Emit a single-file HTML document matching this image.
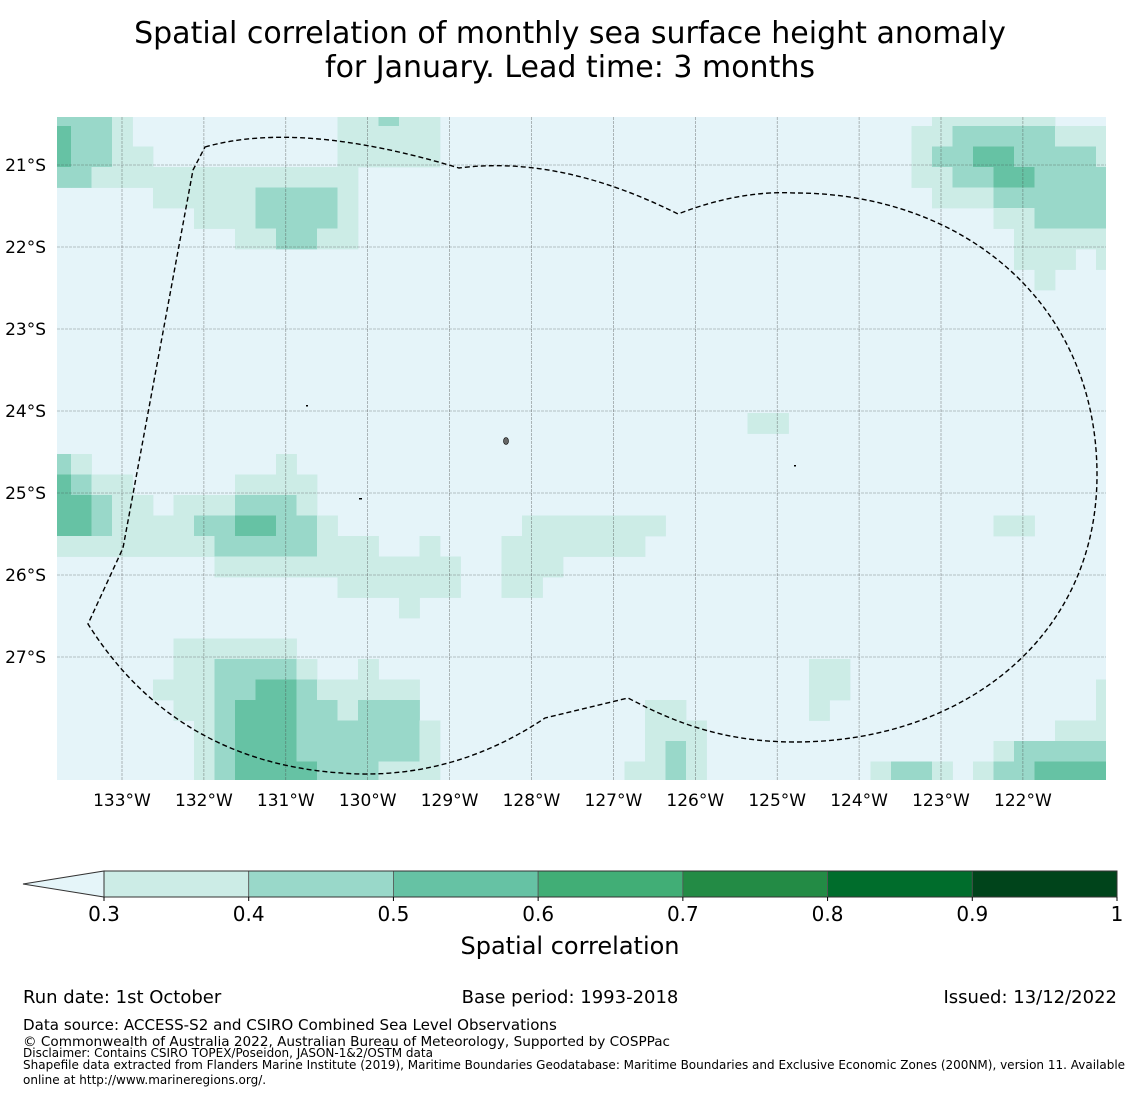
<!DOCTYPE html>
<html><head><meta charset="utf-8">
<style>
html,body{margin:0;padding:0;background:#fff;}
body{width:1140px;height:1095px;overflow:hidden;font-family:"DejaVu Sans","Liberation Sans",sans-serif;}
svg text{font-family:"DejaVu Sans","Liberation Sans",sans-serif;fill:#000;}
</style></head>
<body>
<svg id="chart" width="1140" height="1095" viewBox="0 0 1140 1095" xmlns="http://www.w3.org/2000/svg">
<text x="570" y="43" font-size="30" text-anchor="middle">Spatial correlation of monthly sea surface height anomaly</text>
<text x="570" y="77" font-size="30" text-anchor="middle">for January. Lead time: 3 months</text>
<defs><clipPath id="mapclip"><rect x="57" y="117" width="1049" height="663"/></clipPath></defs>
<g id="map" clip-path="url(#mapclip)">
<rect x="57" y="117" width="1049" height="663" fill="#e5f4f9"/>
<g id="cells"></g>
<g id="grid"></g>
<path d="M205,147 Q300,120 459,168 Q560,155 678,214 Q740,190 795,193 C960,193 1097,300 1097,475 C1097,640 960,742 795,742 C720,742 670,720 628,698 L545,718 Q460,775 362,774 Q180,770 88,624 L123,548 L193,170 Z" fill="none" stroke="#000" stroke-width="1.4" stroke-dasharray="5,3"/>
<ellipse cx="506" cy="441" rx="2.5" ry="3.5" fill="#666" stroke="#000" stroke-width="0.6"/>
<rect x="306" y="405" width="2" height="1.5" fill="#000"/>
<rect x="359" y="498" width="3" height="1.5" fill="#000"/>
<rect x="794" y="465" width="2" height="1.5" fill="#000"/>
</g>
<g id="axes"></g>
<g id="colorbar"></g>
<text x="570" y="954" font-size="24" text-anchor="middle">Spatial correlation</text>
<text x="23" y="1003" font-size="18">Run date: 1st October</text>
<text x="570" y="1003" font-size="18" text-anchor="middle">Base period: 1993-2018</text>
<text x="1117" y="1003" font-size="18" text-anchor="end">Issued: 13/12/2022</text>
<text x="23" y="1030" font-size="15.1">Data source: ACCESS-S2 and CSIRO Combined Sea Level Observations</text>
<text x="23" y="1046" font-size="13.6">© Commonwealth of Australia 2022, Australian Bureau of Meteorology, Supported by COSPPac</text>
<text x="23" y="1057" font-size="12">Disclaimer: Contains CSIRO TOPEX/Poseidon, JASON-1&amp;2/OSTM data</text>
<text x="23" y="1069" font-size="12">Shapefile data extracted from Flanders Marine Institute (2019), Maritime Boundaries Geodatabase: Maritime Boundaries and Exclusive Economic Zones (200NM), version 11. Available</text>
<text x="23" y="1084" font-size="12">online at http://www.marineregions.org/.</text>
</svg>
<script>
var lonTicks = [133,132,131,130,129,128,127,126,125,124,123,122];
var latTicks = [21,22,23,24,25,26,27];
var cbTicks = [0.3,0.4,0.5,0.6,0.7,0.8,0.9,1];
var cbLabels = ["0.3","0.4","0.5","0.6","0.7","0.8","0.9","1"];
var cbColors = ["#ccece6","#99d8c9","#66c2a4","#41ae76","#238b45","#006d2c","#00441b"];
// correlation bin per code: 0 = below 0.3, 1 = 0.3-0.4, 2 = 0.4-0.5, 3 = 0.5-0.6
var levelValues = [0.2, 0.35, 0.45, 0.55];
// one string per 0.25-deg row (north to south), one char per 0.25-deg column (west to east)
var Z = "0000000000";
var gridRows = [
 "2221000000"+"0000112110"+Z+Z+"0001111110"+"00",
 "3221000000"+"0000111110"+Z+Z+"0011222221"+"11",
 "3221100000"+"0000111110"+Z+Z+"0012233222"+"21",
 "2211111111"+"1111100000"+Z+Z+"0011223322"+"22",
 "0000011111"+"2222100000"+Z+Z+"0001112222"+"22",
 "0000000111"+"2222100000"+Z+Z+"0000001122"+"22",
 "0000000001"+"1221100000"+Z+Z+"0000000111"+"11",
 Z+Z+Z+Z+"0000000111"+"01",
 Z+Z+Z+Z+"0000000010"+"00",
 Z+Z+Z+Z+Z+"00",
 Z+Z+Z+Z+Z+"00",
 Z+Z+Z+Z+Z+"00",
 Z+Z+Z+Z+Z+"00",
 Z+Z+Z+Z+Z+"00",
 Z+Z+Z+Z+Z+"00",
 Z+Z+Z+"0000110000"+Z+"00",
 Z+Z+Z+Z+Z+"00",
 "2100000000"+"0100000000"+Z+Z+Z+"00",
 "3211000001"+"1110000000"+Z+Z+Z+"00",
 "3321101112"+"2210000000"+Z+Z+Z+"00",
 "3321111223"+"3221000000"+"0001111111"+Z+"0000001100"+"00",
 "1111111122"+"2221110010"+"0011111110"+Z+Z+"00",
 "0000000011"+"1111111111"+"0011100000"+Z+Z+"00",
 "0000000000"+"0000111111"+"0011000000"+Z+Z+"00",
 Z+"0000000100"+Z+Z+Z+"00",
 Z+Z+Z+Z+Z+"00",
 "0000001111"+"1100000000"+Z+Z+Z+"00",
 "0000001122"+"2210010000"+Z+"0000000110"+Z+"00",
 "0000011122"+"3321111100"+Z+"0000000110"+Z+"01",
 "0000001123"+"3322122200"+"0000000001"+"1000000100"+Z+"01",
 "0000000123"+"3322222210"+"0000000001"+"1100000000"+"0000000001"+"11",
 "0000000123"+"3322222210"+"0000000001"+"2100000000"+"0000001222"+"22",
 "0000000123"+"3332221110"+"0000000011"+"2100000000"+"1221012233"+"33"
];

var NS = "http://www.w3.org/2000/svg";
function xLon(lon){ return 122 + (133 - lon) * 81.9; }
function yLat(lat){ return 165 + (lat - 21) * 82; }
function xCol(c){ return 50.5 + 20.5 * c; }
function yRow(r){ return 105.5 + 20.5 * r; }
function colorFor(v){
  for (var i = 0; i < cbColors.length; i++) { if (v >= cbTicks[i] && v < cbTicks[i+1]) return cbColors[i]; }
  return v >= 1 ? cbColors[cbColors.length-1] : null;
}
function mk(tag, attrs, parent){
  var e = document.createElementNS(NS, tag);
  for (var k in attrs) e.setAttribute(k, attrs[k]);
  parent.appendChild(e); return e;
}
var cells = document.getElementById("cells");
for (var r = 0; r < gridRows.length; r++) {
  for (var c = 0; c < gridRows[r].length; c++) {
    var v = levelValues[+gridRows[r][c]];
    var col = colorFor(v);
    if (!col) continue;
    var rc = mk("rect", {x: xCol(c), y: yRow(r), width: 20.9, height: 20.9, fill: col}, cells);
    
    
  }
}
var grid = document.getElementById("grid");
var axes = document.getElementById("axes");
lonTicks.forEach(function(lon){
  var x = xLon(lon);
  var l = mk("line", {x1: x, x2: x, y1: 117, y2: 780, stroke: "#444", "stroke-width": 0.6, "stroke-dasharray": "3,1", opacity: 0.6}, grid);
  
  
  var t = mk("text", {x: x, y: 806, "font-size": 17, "text-anchor": "middle"}, axes);
  t.textContent = lon + "°W";
  
  
});
latTicks.forEach(function(lat){
  var y = yLat(lat);
  var l = mk("line", {x1: 57, x2: 1106, y1: y, y2: y, stroke: "#444", "stroke-width": 0.6, "stroke-dasharray": "3,1", opacity: 0.6}, grid);
  
  
  var t = mk("text", {x: 46, y: y + 6, "font-size": 17, "text-anchor": "end"}, axes);
  t.textContent = lat + "°S";
  
  
});
var cb = document.getElementById("colorbar");
function xCb(v){ return 104 + (v - 0.3) / 0.7 * 1013; }
var tri = mk("polygon", {points: "23,884 104,871 104,897", fill: "#e5f5f9", stroke: "#333", "stroke-width": 1}, cb);


for (var j = 0; j < cbColors.length; j++) {
  var a = xCb(cbTicks[j]), b = xCb(cbTicks[j+1]);
  var s = mk("rect", {x: a, y: 871, width: b - a, height: 26, fill: cbColors[j], stroke: "#555", "stroke-width": 0.8}, cb);
  
  
}
mk("rect", {x: 104, y: 871, width: 1013, height: 26, fill: "none", stroke: "#333", "stroke-width": 1}, cb);
for (var k = 0; k < cbTicks.length; k++) {
  var tx = xCb(cbTicks[k]);
  mk("line", {x1: tx, x2: tx, y1: 897, y2: 901, stroke: "#000", "stroke-width": 1}, cb);
  var t = mk("text", {x: tx, y: 921, "font-size": 20, "text-anchor": "middle"}, cb);
  t.textContent = cbLabels[k];
  
  
}
</script>
</body></html>
